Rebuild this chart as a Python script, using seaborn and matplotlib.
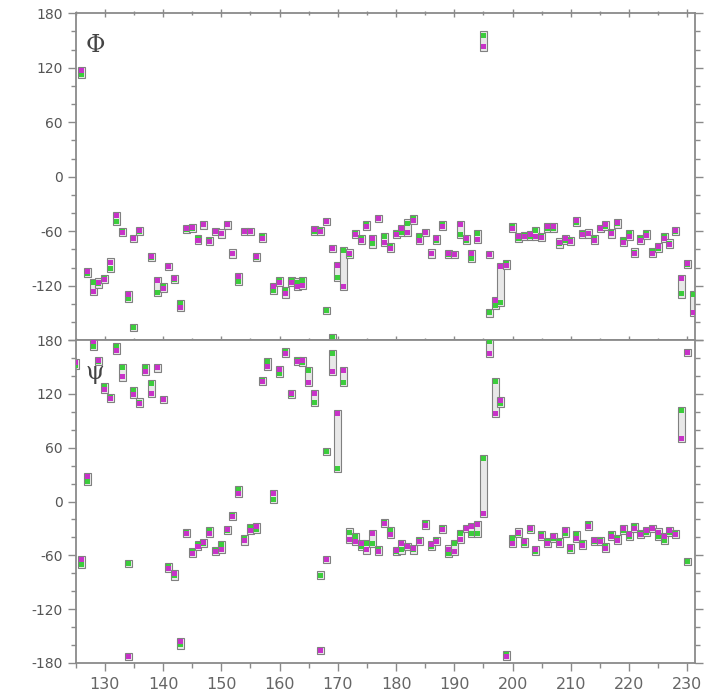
import numpy as np
import pandas as pd
import matplotlib
matplotlib.use('Agg')
import matplotlib.pyplot as plt
from matplotlib.patches import Rectangle
from matplotlib.ticker import MultipleLocator, FixedLocator, FixedFormatter
import seaborn as sns

nan = np.nan

# 잔기 번호 (Phi: 126-231, Psi: 125-230)
phi_res = list(range(126, 232))
psi_res = list(range(125, 231))

# Phi 값 (green 모델, purple 모델)
phi_green = [113, -106, -117, -118, -112, -101, -49, -60, -134, -166,
             -60, nan, -89, -127, -121, -99, -113, -140, -58, -57,
             -68, -53, -70, -60, -62, -53, -85, -115, -60, -60,
             -89, -66, nan, -125, -114, -125, -114, -116, -114, nan,
             -60, -59, -147, -177, -111, -81, -86, -63, -68, -53,
             -74, -46, -66, -77, -63, -61, -51, -46, -66, -61,
             -85, -70, -53, -86, -86, -64, -70, -90, -63, 156,
             -150, -142, -138, -96, -55, -68, -65, -66, -59, -66,
             -57, -57, -74, -70, -70, -50, -63, -63, -68, -57,
             -55, -61, -52, -70, -63, -83, -68, -63, -82, -79,
             -66, -73, -60, -129, -97, -130]
phi_purple = [117, -104, -126, -116, -113, -94, -43, -61, -130, -68,
              -59, nan, -88, -114, -123, -99, -112, -144, -57, -56,
              -70, -53, -71, -60, -63, -53, -84, -110, -60, -60,
              -88, -68, nan, -121, -116, -129, -116, -121, -120, nan,
              -58, -60, -49, -79, -98, -121, -84, -64, -70, -55,
              -68, -46, -72, -79, -64, -57, -61, -48, -70, -61,
              -84, -68, -55, -85, -86, -53, -68, -85, -69, 143,
              -86, -136, -99, -98, -57, -66, -66, -64, -66, -67,
              -55, -55, -72, -68, -71, -48, -64, -62, -70, -57,
              -53, -63, -50, -72, -66, -84, -70, -65, -84, -77,
              -68, -75, -59, -112, -96, -149]

# Psi 값 (green 모델, purple 모델)
psi_green = [152, -70, 22, 173, 156, 128, 116, 173, 150, -69,
             124, 111, 150, 132, 149, 114, -73, -83, -160, -35,
             -56, -48, -47, -32, -55, -48, -32, -16, 13, -41,
             -29, -31, 135, 156, 2, 143, 167, 119, 157, 155,
             146, 111, -82, 56, 165, 37, 133, -34, -39, -50,
             -47, -47, -54, -23, -32, -56, -54, -50, -54, -43,
             -25, -50, -44, -30, -58, -47, -36, -30, -36, -36,
             48, 178, 134, 109, -171, -41, -36, -47, -31, -56,
             -37, -45, -41, -45, -36, -53, -37, -47, -26, -45,
             -43, -50, -37, -41, -32, -39, -28, -36, -34, -30,
             -39, -43, -34, -36, 102, -67]
psi_purple = [155, -65, 28, 178, 157, 125, 115, 169, 139, -173,
              119, 109, 145, 121, 150, 114, -75, -80, -156, -36,
              -58, -50, -46, -36, -56, -53, -31, -17, 9, -44,
              -32, -28, 134, 151, 9, 147, 165, 120, 156, 157,
              133, 121, -166, -65, 145, 98, 146, -42, -45, -47,
              -54, -36, -56, -24, -37, -55, -47, -50, -52, -45,
              -27, -48, -45, -31, -53, -56, -42, -30, -28, -26,
              -13, 165, 98, 113, -173, -47, -34, -45, -30, -54,
              -39, -47, -39, -47, -32, -51, -41, -49, -28, -43,
              -45, -52, -39, -43, -30, -37, -30, -37, -32, -30,
              -34, -39, -32, -37, 70, 166]

model_colors = {'green': '#3ccc3c', 'purple': '#c832c8'}

# long-form 데이터 프레임
frames = []
for name, res, g, p in [('phi', phi_res, phi_green, phi_purple),
                        ('psi', psi_res, psi_green, psi_purple)]:
    frames.append(pd.DataFrame({'residue': res, 'angle': name, 'model': 'green', 'value': g}))
    frames.append(pd.DataFrame({'residue': res, 'angle': name, 'model': 'purple', 'value': p}))
df = pd.concat(frames, ignore_index=True).dropna()

sns.set_style('ticks')
plt.rcParams['font.family'] = ['DejaVu Sans']
plt.rcParams['axes.unicode_minus'] = False

fig = plt.figure(figsize=(7.07, 7.0), dpi=100)
ax1 = fig.add_axes([0.107, 0.514, 0.876, 0.467])
ax2 = fig.add_axes([0.107, 0.053, 0.876, 0.461])


def draw_boxes(ax, res, g, p):
    # 두 모델 값을 잇는 회색 상자
    for r, a, b in zip(res, g, p):
        if np.isnan(a):
            continue
        if abs(a - b) <= 62:
            lo, hi = min(a, b), max(a, b)
            ax.add_patch(Rectangle((r - 0.6, lo - 4), 1.2, hi - lo + 8,
                                   facecolor='#e8e8e8', edgecolor='#808080', lw=0.8, zorder=2))
        else:
            for v in (a, b):
                ax.add_patch(Rectangle((r - 0.6, v - 4), 1.2, 8,
                                       facecolor='#e8e8e8', edgecolor='#808080', lw=0.8, zorder=2))


for ax, name, res, g, p, label in [(ax1, 'phi', phi_res, phi_green, phi_purple, 'Φ'),
                                   (ax2, 'psi', psi_res, psi_green, psi_purple, 'ψ')]:
    draw_boxes(ax, res, g, p)
    sns.scatterplot(data=df[df['angle'] == name], x='residue', y='value', hue='model',
                    palette=model_colors, marker='s', s=13, linewidth=0,
                    legend=False, ax=ax, zorder=3)
    ax.set_xlim(125, 231.3)
    ax.set_ylim(-180, 180)
    ax.set_xlabel('')
    ax.set_ylabel('')
    ax.xaxis.set_major_locator(MultipleLocator(10))
    ax.xaxis.set_minor_locator(MultipleLocator(5))
    ax.yaxis.set_major_locator(MultipleLocator(60))
    ax.yaxis.set_minor_locator(MultipleLocator(20))
    for sp in ax.spines.values():
        sp.set_visible(True)
        sp.set_color('#8a8a8a')
        sp.set_linewidth(1.3)
    ax.tick_params(which='both', direction='out', color='#8a8a8a', labelcolor='#555555',
                   labelsize=10, left=True, right=True, top=True, bottom=True, width=1)
    ax.tick_params(which='major', length=6)
    ax.tick_params(which='minor', length=3.5)
    ax.text(0.031, 0.90, label, transform=ax.transAxes, fontsize=17,
            family='DejaVu Serif', color='#444444', ha='center', va='center')

# 위 패널: -180 눈금 라벨은 아래 패널의 180과 겹치므로 숨김
yt = [180, 120, 60, 0, -60, -120, -180]
ax1.yaxis.set_major_locator(FixedLocator(yt))
ax1.yaxis.set_major_formatter(FixedFormatter(['180', '120', '60', '0', '-60', '-120', '']))
ax1.tick_params(labelbottom=False, bottom=True)
ax1.tick_params(axis='x', which='both', bottom=True, direction='inout')
ax2.tick_params(axis='x', which='both', top=False)
ax2.tick_params(axis='x', labelsize=11.5, pad=4, labelcolor='#666666')

fig.savefig('out.png', dpi=100)
